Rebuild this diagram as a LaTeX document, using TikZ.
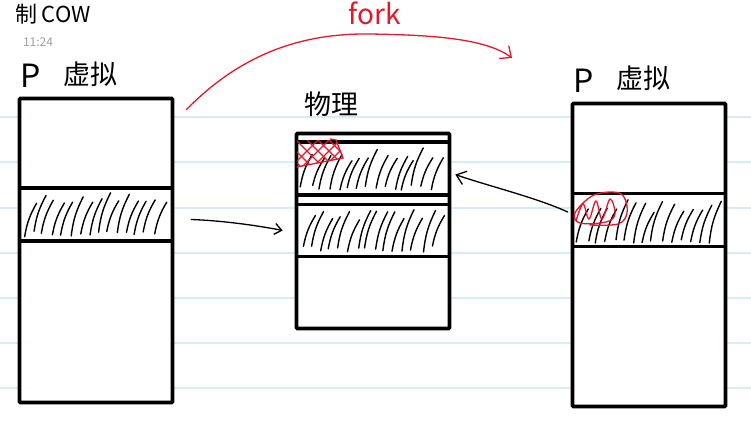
\documentclass[tikz,border=0pt]{standalone}
\usepackage{fontspec}
\setmainfont{Noto Sans CJK SC}
\usepackage{xcolor}
\usepackage{tikz}
\usetikzlibrary{arrows.meta, positioning}
\definecolor{ruleblue}{RGB}{214,236,248}
\definecolor{penred}{RGB}{228,24,44}

\begin{document}
\begin{tikzpicture}[x=1pt,y=-1pt,
  membox/.style={draw=black, line width=3.6pt, fill=white, minimum width=153pt,
                 inner sep=0, rounded corners=1pt},
  slot/.style={draw=black, line width=3.6pt, minimum width=153pt, minimum height=53pt, inner sep=0},
  hatch/.style={line width=1.4pt, line cap=round},
  pen/.style={line width=1.3pt, line cap=round},
  ink/.style={pen, -{Straight Barb[length=7pt,width=11pt]}},
  hand/.style={font=\fontsize{27}{27}\selectfont, inner sep=0}]
  \useasboundingbox (0,0) rectangle (751,432);
  \clip (0,0) rectangle (751,432);
  %% Ruled page lines
  \foreach \ry in {117,162,208,253,298,343,388}{
    \draw[ruleblue, line width=1.4pt] (0,\ry) -- (751,\ry);
  }
  %% Title and time
  \node[font=\fontsize{22}{22}\selectfont, anchor=base east, inner sep=0] (title) at (91,22) {制 COW};
  \node[font=\fontsize{12}{12}\selectfont, text=black!38, inner sep=0] (clock) at (38,42) {11:24};
  %% Left: P virtual
  \node[hand, font=\fontsize{32}{32}\selectfont] (labPl) at (31,76) {P};
  \node[hand] (labVl) at (90,74) {虚拟};
  \node[membox, minimum height=304pt] (leftbox) at (96,250.5) {};
  \node[slot] (leftslot) at (96,214.5) {};
  %% Middle: physical
  \node[hand] (labPhys) at (331,104) {物理};
  \node[membox, minimum height=195pt] (physbox) at (373,231) {};
  \node[slot] (physa) at (373,168.5) {};
  \node[slot, minimum height=52pt] (physb) at (373,230.5) {};
  %% Right: P virtual (child)
  \node[hand, font=\fontsize{32}{32}\selectfont] (labPr) at (584,81) {P};
  \node[hand] (labVr) at (643,78) {虚拟};
  \node[membox, minimum height=303pt] (rightbox) at (649,255) {};
  \node[slot] (rightslot) at (649,220) {};
  %% Hatching
  \pgfmathsetseed{11}
  \foreach \i in {0,...,14}{
    \pgfmathsetmacro{\hx}{22+9.3*\i+4*rnd}
    \pgfmathsetmacro{\hb}{231+6*rnd}
    \pgfmathsetmacro{\hl}{30+10*rnd}
    \draw[hatch] (\hx,\hb) to[bend left=10] ++(12,-\hl);
  }
  \foreach \i in {0,...,14}{
    \pgfmathsetmacro{\hx}{300+9.2*\i+4*rnd}
    \pgfmathsetmacro{\hb}{185+6*rnd}
    \pgfmathsetmacro{\hl}{26+14*rnd}
    \draw[hatch] (\hx,\hb) to[bend left=10] ++(12,-\hl);
  }
  \foreach \i in {0,...,14}{
    \pgfmathsetmacro{\hx}{300+9.2*\i+4*rnd}
    \pgfmathsetmacro{\hb}{246+6*rnd}
    \pgfmathsetmacro{\hl}{28+14*rnd}
    \draw[hatch] (\hx,\hb) to[bend left=10] ++(12,-\hl);
  }
  \foreach \i in {0,...,14}{
    \pgfmathsetmacro{\hx}{576+9.3*\i+4*rnd}
    \pgfmathsetmacro{\hb}{239+5*rnd}
    \pgfmathsetmacro{\hl}{30+12*rnd}
    \draw[hatch] (\hx,\hb) to[bend left=10] ++(12,-\hl);
  }
  %% Red marks on the shared page
  \begin{scope}
    \clip (297,140) -- (297,167) -- (343,158) -- (337,140) -- cycle;
    \foreach \k in {0,...,5}{
      \draw[penred, line width=1.1pt] (274+11*\k,140) -- ++(28,28) (290+11*\k,168) -- ++(28,-28);
    }
  \end{scope}
  \draw[pen, penred] (297,167) -- (343,158) -- (336,140) -- (330,139);
  \draw[pen, penred] plot[smooth, tension=0.6] coordinates {(576,221) (583,204) (589,219) (596,201)
    (602,219) (610,199) (615,214) (606,222) (580,223) (575,213) (592,196) (613,192) (624,197)
    (627,213) (618,224) (590,225)};
  %% Mapping arrows
  \draw[ink] ([xshift=17pt,yshift=-5pt]leftslot.east) .. controls +(30,1) and +(-25,-5)
    .. ([xshift=-12pt]physb.west);
  \draw[ink, -{Straight Barb[length=9pt,width=14pt]}] ([xshift=-3pt,yshift=8pt]rightslot.west)
    .. controls +(-30,-14) and +(28,10) .. ([xshift=4pt,yshift=-6pt]physa.east);
  %% fork
  \coordinate (forkend) at (512,58);
  \draw[pen, penred, -{Straight Barb[length=9pt,width=16pt]}] ([xshift=12pt,yshift=-13pt]leftbox.north east)
    .. controls (240,55) and (300,33) .. (370,34) .. controls (430,35) and (485,38) .. (forkend);
  \node[font=\fontsize{28}{28}\selectfont, text=penred, inner sep=0] (labFork) at (375,13) {fork};
\end{tikzpicture}
\end{document}
